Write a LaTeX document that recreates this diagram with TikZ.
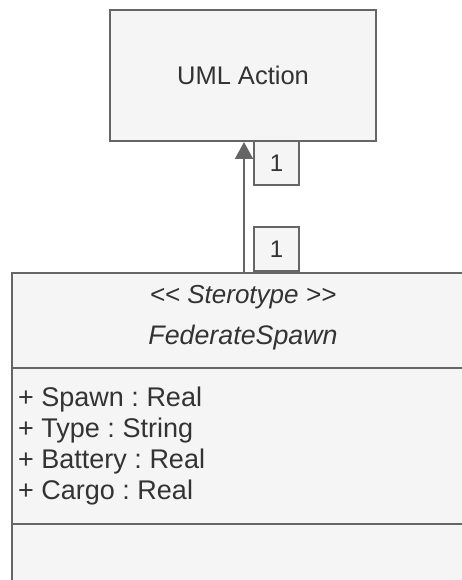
\documentclass[tikz,border=0pt]{standalone}
\usepackage{fontspec}
\setmainfont{Liberation Sans}
\usetikzlibrary{arrows.meta}
\definecolor{boxfill}{HTML}{F5F5F5}
\definecolor{boxline}{HTML}{666666}
\definecolor{txt}{HTML}{333333}
\tikzset{
  grayb/.style={draw=boxline, fill=boxfill, line width=2pt, inner sep=0pt, text=txt},
  mult/.style={grayb, minimum width=45pt, minimum height=44pt, font=\fontsize{24}{28}\selectfont},
  conn/.style={draw=boxline, line width=2pt, -{Triangle[length=17pt,width=18pt]}},
  sep/.style={draw=boxline, line width=2pt},
  plain/.style={inner sep=0pt, text=txt}
}
\frenchspacing
\begin{document}
\begin{tikzpicture}[x=1pt,y=-1pt]
\useasboundingbox (0,0) rectangle (462,580);
\clip (0,0) rectangle (462,580);
\fill[white] (0,0) rectangle (462,580);
\node[grayb, anchor=north west, minimum width=266pt, minimum height=131pt,
      font=\fontsize{25.5}{30}\selectfont] (action) at (109,9) {UML Action};
\node[grayb, anchor=north west, minimum width=464pt, minimum height=340pt] (classbox) at (11,272) {};
\draw[sep] (classbox.west |- 0,368) -- (classbox.east |- 0,368);
\draw[sep] (classbox.west |- 0,524) -- (classbox.east |- 0,524);
\node[plain, font=\fontsize{26}{30}\selectfont\itshape] (stereo) at (243,297) {{<}{<} Sterotype {>}{>}};
\node[plain, font=\fontsize{26.8}{30}\selectfont\itshape] (cname) at (243,338) {FederateSpawn};
\node[plain, anchor=west, align=left, font=\fontsize{27}{31}\selectfont] (attrs) at (18,446.5)
  {+ Spawn : Real\\+ Type : String\\+ Battery : Real\\+ Cargo : Real};
\draw[conn] (classbox.north) -- (classbox.north |- action.south);
\node[mult, anchor=north west] (m1) at (253,140) {1};
\node[mult, anchor=south west] (m2) at (253,272) {1};
\end{tikzpicture}
\end{document}
